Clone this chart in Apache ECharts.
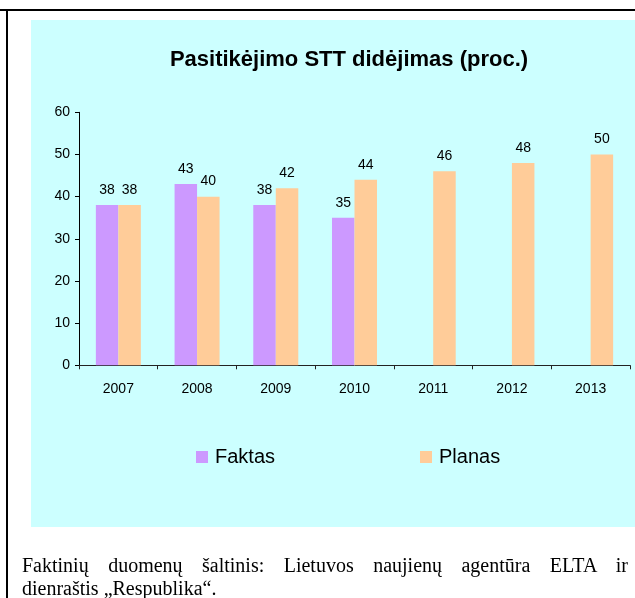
<!DOCTYPE html>
<html>
<head>
<meta charset="utf-8">
<script src="https://cdn.jsdelivr.net/npm/echarts@6/dist/echarts.min.js"></script>
<style>
html,body{margin:0;padding:0;width:635px;height:598px;overflow:hidden;background:#fff;}
#chart{position:absolute;left:0;top:0;width:635px;height:598px;}
#caption{position:absolute;left:22px;top:554px;width:606px;font-family:"Liberation Serif","Times New Roman",serif;font-size:20px;line-height:23px;color:#000;}
#caption .l1{text-align:justify;text-align-last:justify;white-space:nowrap;}
</style>
</head>
<body>
<div id="chart"></div>
<div id="caption"><div class="l1">Faktinių duomenų šaltinis: Lietuvos naujienų agentūra ELTA ir</div><div>dienraštis „Respublika“.</div></div>
<script>
const titleText = 'Pasitikėjimo STT didėjimas (proc.)';
const years = ['2007', '2008', '2009', '2010', '2011', '2012', '2013'];
const faktas = [38, 43, 38, 35, '-', '-', '-'];
const planas = [38, 40, 42, 44, 46, 48, 50];
const yTicks = [0, 10, 20, 30, 40, 50, 60];

const chart = echarts.init(document.getElementById('chart'), null, {renderer: 'canvas'});
const font = 'Arial, "Liberation Sans", sans-serif';
const labelCfg = {show: true, position: 'top', distance: 8, color: '#000', fontSize: 14, fontFamily: font};

chart.setOption({
  animation: false,
  textStyle: {fontFamily: font},
  graphic: {
    elements: [
      {type: 'rect', z: -10, silent: true, shape: {x: 31, y: 20, width: 604, height: 507}, style: {fill: '#CCFFFF'}},
      {type: 'rect', z: -10, silent: true, shape: {x: 0, y: 9, width: 635, height: 2}, style: {fill: '#000'}},
      {type: 'rect', z: -10, silent: true, shape: {x: 6, y: 9, width: 2, height: 589}, style: {fill: '#000'}},
      {type: 'text', z: 10, x: 349, y: 60, style: {text: titleText, font: 'bold 22px Arial, "Liberation Sans", sans-serif', fill: '#000', textAlign: 'center', textVerticalAlign: 'middle'}}
    ]
  },
  legend: [
    {data: ['Faktas'], left: 196, top: 447, padding: 0, itemWidth: 12, itemHeight: 12, icon: 'rect', itemGap: 0,
     textStyle: {fontSize: 20, color: '#000', fontFamily: font, padding: [0, 0, 0, 2]}},
    {data: ['Planas'], left: 420, top: 447, padding: 0, itemWidth: 12, itemHeight: 12, icon: 'rect', itemGap: 0,
     textStyle: {fontSize: 20, color: '#000', fontFamily: font, padding: [0, 0, 0, 2]}}
  ],
  grid: {left: 79, right: 5, top: 112.3, bottom: 232.7, containLabel: false},
  xAxis: {
    type: 'category', data: years,
    axisLine: {lineStyle: {color: '#222', width: 1}},
    axisTick: {show: true, length: 4, inside: false, lineStyle: {color: '#222'}},
    axisLabel: {color: '#000', fontSize: 14, margin: 17, fontFamily: font}
  },
  yAxis: {
    type: 'value', min: 0, max: 60, interval: 10,
    axisLine: {show: true, lineStyle: {color: '#000', width: 1}},
    axisTick: {show: true, length: 4, lineStyle: {color: '#000'}},
    axisLabel: {color: '#000', fontSize: 14, margin: 9, fontFamily: font, padding: [4, 0, 0, 0],
      formatter: v => yTicks.includes(v) ? String(v) : ''},
    splitLine: {show: false}
  },
  series: [
    {name: 'Faktas', type: 'bar', data: faktas, barWidth: 22.5, barGap: '0%',
     itemStyle: {color: '#CC99FF'}, label: labelCfg},
    {name: 'Planas', type: 'bar', data: planas, barWidth: 22.5, barGap: '0%',
     itemStyle: {color: '#FFCC99'}, label: labelCfg}
  ]
});
</script>
</body>
</html>
